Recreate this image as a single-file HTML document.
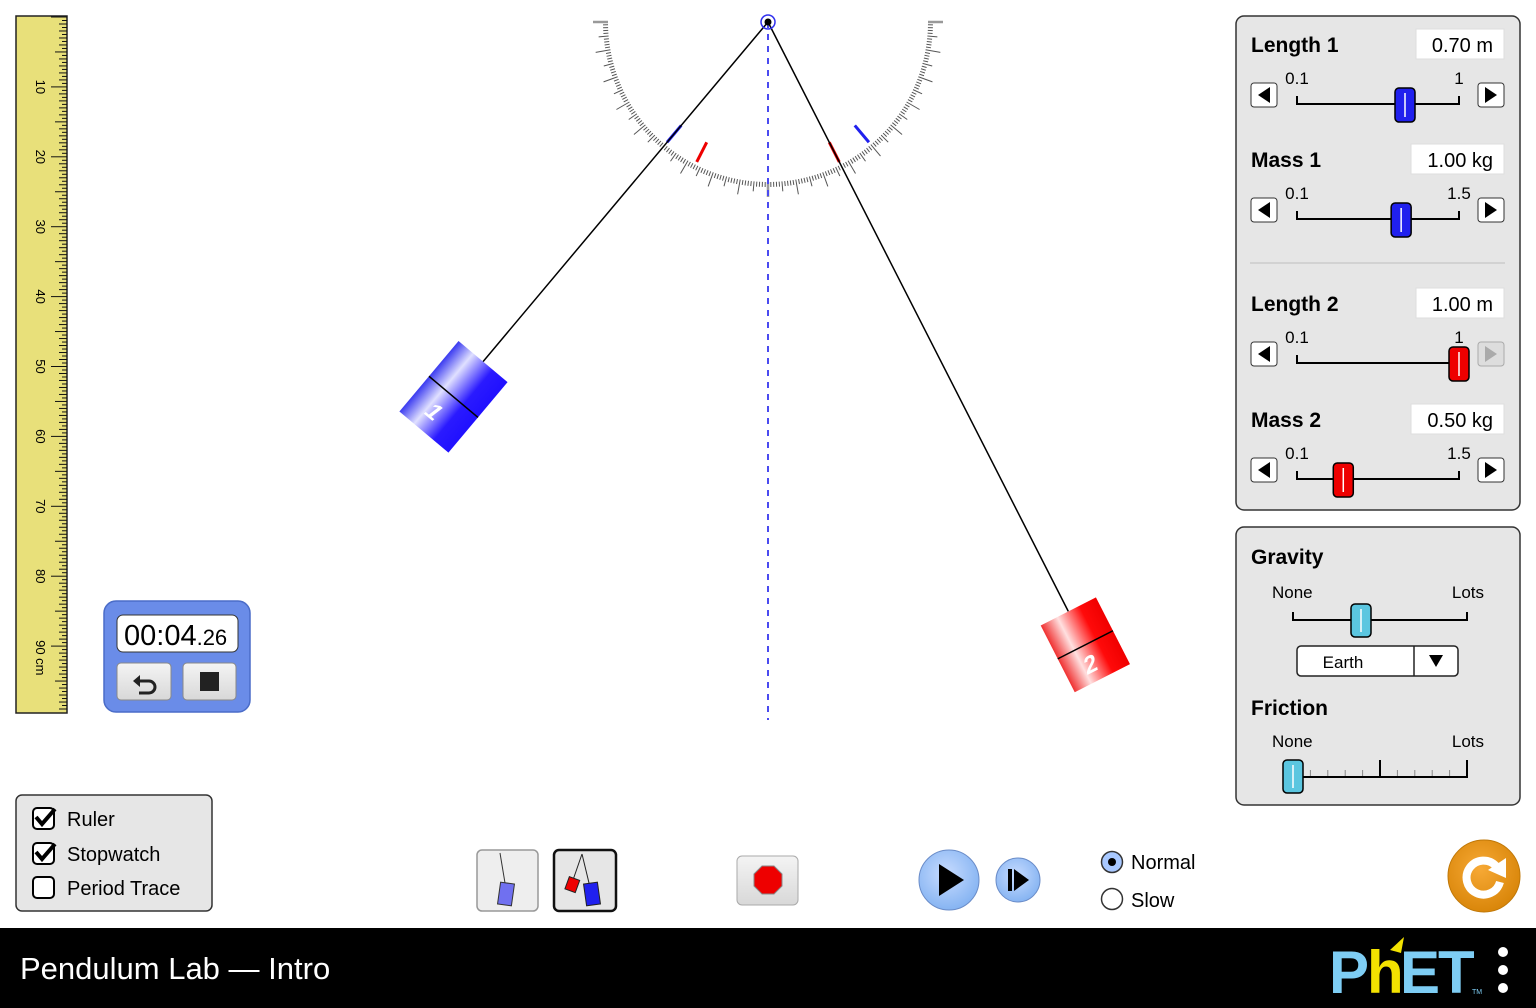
<!DOCTYPE html>
<html><head><meta charset="utf-8"><title>Pendulum Lab — Intro</title>
<style>
html,body{margin:0;padding:0;background:#fff;}
body{width:1536px;height:1008px;overflow:hidden;font-family:"Liberation Sans",Arial,sans-serif;}
svg{display:block;}
text{font-family:"Liberation Sans",Arial,sans-serif;}
</style></head>
<body>
<svg id="root" width="1536" height="1008" viewBox="0 0 1536 1008" xmlns="http://www.w3.org/2000/svg">
<defs>
<linearGradient id="gBlue" x1="0" x2="1" y1="0" y2="0">
<stop offset="0" stop-color="#3a3af0"/><stop offset="0.3" stop-color="#e0e0ff"/><stop offset="0.7" stop-color="#2a1aff"/><stop offset="1" stop-color="#2010ff"/></linearGradient>
<linearGradient id="gRed" x1="0" x2="1" y1="0" y2="0">
<stop offset="0" stop-color="#f03030"/><stop offset="0.3" stop-color="#ffe0e0"/><stop offset="0.7" stop-color="#ff0a0a"/><stop offset="1" stop-color="#f00000"/></linearGradient>
<radialGradient id="gPlay" cx="0.45" cy="0.4" r="0.6"><stop offset="0" stop-color="#c8dcff"/><stop offset="1" stop-color="#86b4f2"/></radialGradient>
<radialGradient id="gReset" cx="0.45" cy="0.4" r="0.6"><stop offset="0" stop-color="#f7a935"/><stop offset="1" stop-color="#d9860a"/></radialGradient>
<linearGradient id="gBtn" x1="0" x2="0" y1="0" y2="1"><stop offset="0" stop-color="#f4f4f4"/><stop offset="1" stop-color="#d8d8d8"/></linearGradient>
</defs>

<!-- Ruler -->
<g>
<rect x="16" y="16" width="51" height="697" fill="#e8e07a" stroke="#222" stroke-width="1.5"/>
<g id="rulerTicks"></g>
</g>

<!-- Protractor and pendulums -->
<g id="protractor"></g>
<line x1="768" y1="22" x2="768" y2="720" stroke="#4a4af0" stroke-width="2" stroke-dasharray="6,6"/>
<g id="pendulums"></g>
<circle cx="768" cy="22" r="7" fill="none" stroke="#3030ee" stroke-width="1.5"/>
<circle cx="768" cy="22" r="3.5" fill="#000"/>

<!-- Stopwatch -->
<g>
<rect x="104" y="601" width="146" height="111" rx="12" fill="#6a8ce8" stroke="#4a6cc8" stroke-width="1.5"/>
<rect x="117" y="615" width="121" height="37" rx="6" fill="#fff" stroke="#333"/>
<text x="124" y="645" font-size="29" fill="#000">00:04<tspan font-size="22">.26</tspan></text>
<g>
<rect x="117" y="663" width="54" height="37" rx="4" fill="url(#gBtn)" stroke="#888"/>
<path d="M137 681 h12 a6 6 0 0 1 0 12 h-10" fill="none" stroke="#222" stroke-width="3"/>
<path d="M133 681 l7 -6 v12 z" fill="#222"/>
</g>
<g>
<rect x="183" y="663" width="53" height="37" rx="4" fill="url(#gBtn)" stroke="#888"/>
<rect x="200" y="672" width="19" height="19" fill="#222"/>
</g>
</g>

<!-- Checkbox panel -->
<g>
<rect x="16" y="795" width="196" height="116" rx="6" fill="#e6e6e6" stroke="#333" stroke-width="1.5"/>
<g>
<rect x="33" y="808" width="21" height="21" rx="4" fill="#fff" stroke="#000" stroke-width="2"/>
<path d="M36 817 l6 7 l13 -15" fill="none" stroke="#000" stroke-width="4"/>
<text x="67" y="826" font-size="20">Ruler</text></g>
<g>
<rect x="33" y="843" width="21" height="21" rx="4" fill="#fff" stroke="#000" stroke-width="2"/>
<path d="M36 852 l6 7 l13 -15" fill="none" stroke="#000" stroke-width="4"/>
<text x="67" y="861" font-size="20">Stopwatch</text></g>
<g>
<rect x="33" y="877" width="21" height="21" rx="4" fill="#fff" stroke="#000" stroke-width="2"/>
<text x="67" y="895" font-size="20">Period Trace</text></g>
</g>

<!-- Bottom controls -->
<g>
<rect x="477" y="850" width="61" height="61" rx="5" fill="#eee" stroke="#999" stroke-width="1.5"/>
<line x1="500" y1="853" x2="505" y2="883" stroke="#333"/>
<rect x="499" y="883" width="14" height="22" fill="#7070f0" stroke="#333" transform="rotate(8 506 894)"/>
</g>
<g>
<rect x="554" y="850" width="62" height="61" rx="5" fill="#e6e6e6" stroke="#111" stroke-width="2.5"/>
<line x1="582" y1="854" x2="573" y2="880" stroke="#222"/>
<line x1="582" y1="854" x2="589" y2="883" stroke="#222"/>
<rect x="567" y="878" width="11" height="13" fill="#e00" stroke="#222" transform="rotate(20 572 884)"/>
<rect x="585" y="883" width="14" height="22" fill="#2020ee" stroke="#222" transform="rotate(-8 592 894)"/>
</g>
<g>
<rect x="737" y="856" width="61" height="49" rx="5" fill="url(#gBtn)" stroke="#aaa"/>
<polygon points="762,866 774,866 782,874 782,886 774,894 762,894 754,886 754,874" fill="#e00" stroke="#888"/>
</g>
<g>
<circle cx="949" cy="880" r="30" fill="url(#gPlay)" stroke="#6a8cc8"/>
<polygon points="939,864 939,896 964,880" fill="#000"/>
</g>
<g>
<circle cx="1018" cy="880" r="22" fill="url(#gPlay)" stroke="#6a8cc8"/>
<rect x="1008" y="869" width="4" height="22" fill="#000"/>
<polygon points="1014,869 1014,891 1029,880" fill="#000"/>
</g>
<g>
<circle cx="1112" cy="862" r="10.5" fill="#a8c8ff" stroke="#333" stroke-width="1.5"/>
<circle cx="1112" cy="862" r="4" fill="#000"/>
<text x="1131" y="869" font-size="20">Normal</text></g>
<g>
<circle cx="1112" cy="899" r="10.5" fill="#fff" stroke="#333" stroke-width="1.5"/>
<text x="1131" y="907" font-size="20">Slow</text></g>
<g>
<circle cx="1484" cy="876" r="36" fill="url(#gReset)" stroke="#c07808"/>
<path d="M1496 866 A17 17 0 1 0 1500 882" fill="none" stroke="#fff" stroke-width="8"/>
<polygon points="1488,870 1506,858 1506,878" fill="#fff"/>
</g>

<!-- Right panel 1 -->
<g>
<rect x="1236" y="16" width="284" height="494" rx="8" fill="#e6e6e6" stroke="#333" stroke-width="1.5"/>
<line x1="1250" y1="263" x2="1505" y2="263" stroke="#ccc" stroke-width="1.5"/>
<g id="sliders"></g>
</g>

<!-- Right panel 2 -->
<g>
<rect x="1236" y="527" width="284" height="278" rx="8" fill="#e6e6e6" stroke="#333" stroke-width="1.5"/>
<text x="1251" y="564" font-size="21" font-weight="bold">Gravity</text>
<text x="1272" y="598" font-size="17">None</text>
<text x="1484" y="598" font-size="17" text-anchor="end">Lots</text>
<g>
<path d="M1293 612 V620 H1467 V612" fill="none" stroke="#000" stroke-width="2"/>
<rect x="1351" y="604" width="20" height="33" rx="4" fill="#5bc6e0" stroke="#000" stroke-width="1.5"/>
<line x1="1361" y1="609" x2="1361" y2="632" stroke="#fff" stroke-width="1.5"/>
</g>
<g>
<rect x="1297" y="646" width="161" height="30" rx="4" fill="#fff" stroke="#222" stroke-width="1.5"/>
<line x1="1414" y1="646" x2="1414" y2="676" stroke="#222" stroke-width="1.5"/>
<text x="1343" y="668" font-size="17" text-anchor="middle">Earth</text>
<polygon points="1429,655 1443,655 1436,667" fill="#000"/>
</g>
<text x="1251" y="715" font-size="21" font-weight="bold">Friction</text>
<text x="1272" y="747" font-size="17">None</text>
<text x="1484" y="747" font-size="17" text-anchor="end">Lots</text>
<g>
<g id="fricTicks"></g>
<path d="M1293 760 V777 H1467 V760" fill="none" stroke="#000" stroke-width="2"/>
<line x1="1380" y1="760" x2="1380" y2="777" stroke="#000" stroke-width="2"/>
<rect x="1283" y="760" width="20" height="33" rx="4" fill="#5bc6e0" stroke="#000" stroke-width="1.5"/>
<line x1="1293" y1="765" x2="1293" y2="788" stroke="#fff" stroke-width="1.5"/>
</g>
</g>

<!-- Bottom bar -->
<rect x="0" y="928" width="1536" height="80" fill="#000"/>
<text x="20" y="979" font-size="31" fill="#fff">Pendulum Lab — Intro</text>
<g>
<text x="1329" y="993" font-size="60" font-weight="bold" fill="#7ecdf4">P</text>
<text x="1367" y="993" font-size="60" font-weight="bold" fill="#f3e200">h</text>
<text x="1400" y="993" font-size="60" font-weight="bold" fill="#7ecdf4" letter-spacing="-2">ET</text>
<polygon points="1390,950 1404,937 1401,953" fill="#f3e200"/>
<text x="1472" y="994" font-size="7" fill="#7ecdf4">TM</text>
</g>
<g>
<circle cx="1503" cy="952" r="5" fill="#fff"/><circle cx="1503" cy="970" r="5" fill="#fff"/><circle cx="1503" cy="988" r="5" fill="#fff"/>
</g>
</svg>

<script>
const NS = 'http://www.w3.org/2000/svg';
// ---- data ----
const pendulumIds = ['1', '2'];
const pendulumLengths = [0.70, 1.00];     // m
const pendulumMasses = [1.00, 0.50];      // kg
const pendulumAngles = [-40, 27];         // degrees from vertical
const amplitudeAngles = [40, 27];         // degrees marker on protractor
const sliderLabels = ['Length 1', 'Mass 1', 'Length 2', 'Mass 2'];
const sliderValues = [0.70, 1.00, 1.00, 0.50];
const sliderMins = [0.1, 0.1, 0.1, 0.1];
const sliderMaxs = [1, 1.5, 1, 1.5];
const sliderUnits = ['m', 'kg', 'm', 'kg'];
const rulerLabels = [10, 20, 30, 40, 50, 60, 70, 80, 90];

function mk(tag, attrs, parent) {
  const e = document.createElementNS(NS, tag);
  for (const k in attrs) e.setAttribute(k, attrs[k]);
  parent.appendChild(e);
  return e;
}
const PX = 768, PY = 22, SCALE = 699; // px per metre
const colors = ['url(#gBlue)', 'url(#gRed)'];
const solid = ['#2020ee', '#ee0000'];

// ruler
const rt = document.getElementById('rulerTicks');
const cmPx = SCALE / 100;
for (let i = 0; i <= 198; i++) {
  const y = 17 + i * cmPx / 2;
  if (y > 712) break;
  const len = i % 20 === 0 ? 16 : (i % 10 === 0 ? 12 : (i % 2 === 0 ? 8 : 5));
  const t = mk('line', {x1: 67, x2: 67 - len, y1: y, y2: y, stroke: '#111', 'stroke-width': 1}, rt);
  
  
}
rulerLabels.forEach(v => {
  const y = 17 + v * cmPx;
  const t = mk('text', {x: 0, y: 0, 'font-size': 13, 'text-anchor': v === 90 ? 'start' : 'middle', transform: `translate(36 ${v === 90 ? y - 6 : y}) rotate(90)`}, rt);
  t.textContent = v === 90 ? '90 cm' : String(v);
  
  
});

// protractor
const pr = document.getElementById('protractor');
const R = 160;
for (let a = -90; a <= 90; a++) {
  const len = a % 10 === 0 ? 15 : (a % 5 === 0 ? 10 : 5);
  const r = a * Math.PI / 180;
  const sx = Math.sin(r), cy = Math.cos(r);
  const t = mk('line', {x1: PX + sx * R, y1: PY + cy * R, x2: PX + sx * (R + len), y2: PY + cy * (R + len), stroke: Math.abs(a) === 90 || a === 0 ? '#999' : '#555', 'stroke-width': Math.abs(a) === 90 || a === 0 ? 2.5 : 1}, pr);
  
  
}
amplitudeAngles.forEach((ang, i) => {
  [-1, 1].forEach(s => {
    const r = s * ang * Math.PI / 180;
    const m = mk('line', {x1: PX + Math.sin(r) * 135, y1: PY + Math.cos(r) * 135, x2: PX + Math.sin(r) * 157, y2: PY + Math.cos(r) * 157, stroke: solid[i], 'stroke-width': 3}, pr);
    
    
  });
});

// pendulums
const pg = document.getElementById('pendulums');
pendulumIds.forEach((id, i) => {
  const dist = pendulumLengths[i] * SCALE;
  const hh = pendulumMasses[i] >= 1 ? 92 : 75;
  const w = pendulumMasses[i] >= 1 ? 64 : 62;
  const ang = pendulumAngles[i];
  const r = ang * Math.PI / 180;
  const cx = PX + Math.sin(r) * dist, cy = PY + Math.cos(r) * dist;
  const topDist = dist - hh / 2;
  const s = mk('line', {x1: PX, y1: PY, x2: PX + Math.sin(r) * topDist, y2: PY + Math.cos(r) * topDist, stroke: '#000', 'stroke-width': 1.5}, pg);
  
  
  const g = mk('g', {transform: `translate(${cx} ${cy}) rotate(${-ang})`}, pg);
  
  
  mk('rect', {x: -w / 2, y: -hh / 2, width: w, height: hh, fill: colors[i]}, g);
  mk('line', {x1: -w / 2, x2: w / 2, y1: 0, y2: 0, stroke: '#000', 'stroke-width': 1.5}, g);
  const t = mk('text', {x: 0, y: hh / 4 + 9, 'font-size': 24, 'font-weight': 'bold', fill: '#fff', 'text-anchor': 'middle', transform: 'skewX(-12)'}, g);
  t.textContent = id;
});

// sliders
const sg = document.getElementById('sliders');
const rowY = [45, 160, 304, 420];
const tx0 = 1297, tx1 = 1459;
sliderLabels.forEach((lab, i) => {
  const y = rowY[i];
  const red = i >= 2;
  const l = mk('text', {x: 1251, y: y + 7, 'font-size': 21, 'font-weight': 'bold'}, sg);
  l.textContent = lab;
  
  
  const bw = sliderUnits[i] === 'kg' ? 93 : 88;
  const box = mk('rect', {x: 1504 - bw, y: y - 16, width: bw, height: 30, fill: '#fff', stroke: '#ddd'}, sg);
  
  
  const v = mk('text', {x: 1493, y: y + 7, 'font-size': 20, 'text-anchor': 'end'}, sg);
  v.textContent = sliderValues[i].toFixed(2) + ' ' + sliderUnits[i];
  const ty = y + 59;
  const lo = mk('text', {x: tx0, y: y + 39, 'font-size': 17, 'text-anchor': 'middle'}, sg);
  lo.textContent = String(sliderMins[i]);
  const hi = mk('text', {x: tx1, y: y + 39, 'font-size': 17, 'text-anchor': 'middle'}, sg);
  hi.textContent = String(sliderMaxs[i]);
  const track = mk('path', {d: `M${tx0} ${ty - 8} V${ty} H${tx1} V${ty - 8}`, fill: 'none', stroke: '#000', 'stroke-width': 2}, sg);
  
  
  const atMax = sliderValues[i] >= sliderMaxs[i];
  [[1251, '◀', false], [1478, '▶', atMax]].forEach(([bx, ch, dis]) => {
    const b = mk('g', {}, sg);
    
    
    mk('rect', {x: bx, y: ty - 21, width: 26, height: 24, rx: 3, fill: dis ? '#ddd' : '#fff', stroke: dis ? '#aaa' : '#333'}, b);
    const p = ch === '◀' ? `${bx + 19},${ty - 17} ${bx + 19},${ty - 1} ${bx + 7},${ty - 9}` : `${bx + 7},${ty - 17} ${bx + 7},${ty - 1} ${bx + 19},${ty - 9}`;
    mk('polygon', {points: p, fill: dis ? '#aaa' : '#000'}, b);
  });
  const xv = tx0 + (sliderValues[i] - sliderMins[i]) / (sliderMaxs[i] - sliderMins[i]) * (tx1 - tx0);
  const th = mk('g', {}, sg);
  
  
  mk('rect', {x: xv - 10, y: ty - 16, width: 20, height: 34, rx: 4, fill: red ? '#ee0000' : '#2020ee', stroke: '#000', 'stroke-width': 1.5}, th);
  mk('line', {x1: xv, x2: xv, y1: ty - 11, y2: ty + 13, stroke: '#fff', 'stroke-width': 1.5}, th);
});

// friction minor ticks
const ft = document.getElementById('fricTicks');
for (let k = 1; k < 10; k++) {
  if (k === 5) continue;
  const x = 1293 + k * (1467 - 1293) / 10;
  const t = mk('line', {x1: x, x2: x, y1: 770, y2: 777, stroke: '#888'}, ft);
  
  
}
</script>
</body></html>
